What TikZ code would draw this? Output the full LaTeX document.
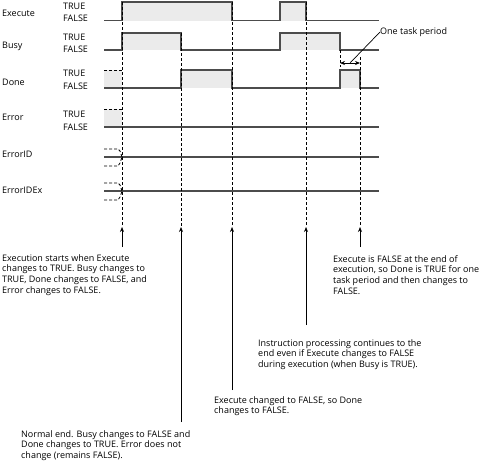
\documentclass[tikz,border=0pt]{standalone}
\usepackage{fontspec}
\setmainfont{Open Sans}
\usetikzlibrary{arrows.meta}
\tikzset{
  sig/.style={line width=1.1pt, draw=black!70},
  sigfill/.style={fill=black!8, draw=none},
  guide/.style={dash pattern=on 3pt off 2pt, line width=0.8pt, draw=black},
  callout/.style={line width=0.8pt, draw=black, -{Stealth[length=5pt,width=4pt]}},
  dim/.style={line width=0.7pt, draw=black, {Stealth[length=5pt,width=4pt]}-{Stealth[length=5pt,width=4pt]}},
  lbl/.style={font=\fontsize{9}{10.8}\selectfont, inner sep=0pt, anchor=west},
  note/.style={font=\fontsize{9}{10.8}\selectfont, align=left, inner sep=0pt, anchor=north west}
}
\begin{document}
\begin{tikzpicture}[x=1pt,y=-1pt]
\useasboundingbox (0,0) rectangle (486,464);
% fills
\fill[sigfill] (122,2) rectangle (232,20.5);
\fill[sigfill] (280,2) rectangle (306,20.5);
\fill[sigfill] (122,33) rectangle (181,50);
\fill[sigfill] (280,33) rectangle (340,50);
\fill[sigfill] (104,70) rectangle (122,88);
\fill[sigfill] (181,70) rectangle (232,88);
\fill[sigfill] (340,70) rectangle (360,88);
\fill[sigfill] (104,109) rectangle (122,127);
% labels
\node[lbl] (lexe) at (2,13) {Execute};
\node[lbl] (lexeT) at (63,6) {TRUE};
\node[lbl] (lexeF) at (63,18) {FALSE};
\node[lbl] (lbusy) at (2,46) {Busy};
\node[lbl] (lbusyT) at (63,37) {TRUE};
\node[lbl] (lbusyF) at (63,49) {FALSE};
\node[lbl] (ldone) at (2,82) {Done};
\node[lbl] (ldoneT) at (63,73) {TRUE};
\node[lbl] (ldoneF) at (63,86) {FALSE};
\node[lbl] (lerr) at (2,117) {Error};
\node[lbl] (lerrT) at (63,114) {TRUE};
\node[lbl] (lerrF) at (63,127) {FALSE};
\node[lbl] (lid) at (2,154) {ErrorID};
\node[lbl] (lidex) at (2,190) {ErrorIDEx};
% signals
\draw[sig] (104,20.5) -- (122,20.5) -- (122,2) -- (232,2) -- (232,20.5) -- (280,20.5) -- (280,2) -- (306,2) -- (306,20.5) -- (379,20.5);
\draw[sig] (104,50) -- (122,50) -- (122,33) -- (181,33) -- (181,50) -- (280,50) -- (280,33) -- (340,33) -- (340,50) -- (379,50);
\draw[sig] (104,88) -- (181,88) -- (181,70) -- (232,70) -- (232,88) -- (340,88) -- (340,70) -- (360,70) -- (360,88) -- (379,88);
\draw[sig] (104,127) -- (379,127);
\draw[sig] (104,157) -- (379,157);
\draw[sig] (104,191) -- (379,191);
% dashed previous states
\draw[guide] (104,70) -- (122,70);
\draw[guide] (104,109) -- (122,109);
\draw[guide] (104,149) -- (118,149) -- (120,151) -- (122,157);
\draw[guide] (104,166) -- (118,166) -- (120,163) -- (122,157);
\draw[guide] (104,183) -- (118,183) -- (120,185) -- (122,191);
\draw[guide] (104,200) -- (118,200) -- (120,197) -- (122,191);
% guide verticals
\coordinate (h1) at (122,227);
\coordinate (h2) at (181,227);
\coordinate (h3) at (232,227);
\coordinate (h4) at (306,227);
\coordinate (h5) at (360,227);
\draw[guide] (122,2) -- (h1);
\draw[guide] (181,33) -- (h2);
\draw[guide] (232,2) -- (h3);
\draw[guide] (306,2) -- (h4);
\draw[guide] (360,57) -- (h5);
\draw[guide] (340,50) -- (340,67);
% one task period
\coordinate (pa) at (340,63);
\coordinate (pb) at (360,63);
\coordinate (pm) at (350,63);
\draw[dim] (pa) -- (pb);
\node[lbl] (ltp) at (380,32) {One task period};
\draw[line width=0.7pt] (pm) -- (ltp.west);
% notes
\node[note] (n1) at (2,254) {Execution starts when Execute\\changes to TRUE. Busy changes to\\TRUE, Done changes to FALSE, and\\Error changes to FALSE.};
\node[note] (n5) at (333,255) {Execute is FALSE at the end of\\execution, so Done is TRUE for one\\task period and then changes to\\FALSE.};
\node[note] (n4) at (258,339) {Instruction processing continues to the\\end even if Execute changes to FALSE\\during execution (when Busy is TRUE).};
\node[note] (n3) at (214,396) {Execute changed to FALSE, so Done\\changes to FALSE.};
\node[note] (n2) at (21,430) {Normal end. Busy changes to FALSE and\\Done changes to TRUE. Error does not\\change (remains FALSE).};
\coordinate (t1) at (122,247);
\coordinate (t2) at (181,422);
\coordinate (t3) at (232,390);
\coordinate (t4) at (306,325);
\coordinate (t5) at (360,247);
\draw[callout] (t1) -- (h1);
\draw[callout] (t2) -- (h2);
\draw[callout] (t3) -- (h3);
\draw[callout] (t4) -- (h4);
\draw[callout] (t5) -- (h5);
\end{tikzpicture}
\end{document}
